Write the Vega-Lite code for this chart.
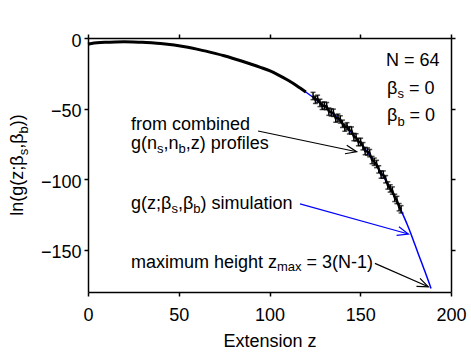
{
  "$schema": "https://vega.github.io/schema/vega-lite/v6.json",
  "width": 363,
  "height": 254,
  "autosize": {"type": "none"},
  "padding": {"left": 88, "top": 38, "right": 20, "bottom": 64},
  "background": "white",
  "config": {
    "view": {"stroke": null},
    "axis": {
      "grid": false,
      "domainColor": "black",
      "domainWidth": 1.5,
      "tickColor": "black",
      "tickWidth": 1.5,
      "tickSize": 4,
      "labelFont": "Liberation Sans",
      "labelFontSize": 18,
      "labelColor": "black",
      "titleFont": "Liberation Sans",
      "titleFontSize": 18,
      "titleFontWeight": "normal",
      "titleColor": "black"
    },
    "text": {"font": "Liberation Sans", "color": "black"}
  },
  "datasets": {
    "curve": [
      {"z": 0, "y": -4.4}, {"z": 2, "y": -3.9}, {"z": 5, "y": -3.4}, {"z": 10, "y": -3.0},
      {"z": 15, "y": -2.8}, {"z": 20, "y": -2.7}, {"z": 25, "y": -2.8}, {"z": 30, "y": -3.0},
      {"z": 35, "y": -3.4}, {"z": 40, "y": -3.9}, {"z": 45, "y": -4.6}, {"z": 50, "y": -5.5},
      {"z": 55, "y": -6.6}, {"z": 60, "y": -7.9}, {"z": 65, "y": -9.3}, {"z": 70, "y": -10.9},
      {"z": 75, "y": -12.6}, {"z": 80, "y": -14.5}, {"z": 85, "y": -16.5}, {"z": 90, "y": -18.6},
      {"z": 95, "y": -20.8}, {"z": 100, "y": -23.2}, {"z": 105, "y": -26.3}, {"z": 110, "y": -29.8},
      {"z": 115, "y": -33.8}, {"z": 120, "y": -38.3}, {"z": 125, "y": -43.0}, {"z": 130, "y": -48.2},
      {"z": 135, "y": -53.8}, {"z": 140, "y": -60.0}, {"z": 145, "y": -66.8}, {"z": 150, "y": -74.3},
      {"z": 155, "y": -82.7}, {"z": 160, "y": -92.2}, {"z": 165, "y": -103.0}, {"z": 170, "y": -115.2},
      {"z": 173, "y": -123.6}, {"z": 176, "y": -132.5}, {"z": 178, "y": -139.0}, {"z": 180, "y": -146.0},
      {"z": 182, "y": -153.0}, {"z": 184, "y": -159.8}, {"z": 185.5, "y": -165.0}, {"z": 187, "y": -170.2},
      {"z": 188, "y": -173.8}, {"z": 189, "y": -177.5}
    ],
    "pts": [
      {"z": 124, "y": -41.1}, {"z": 125.3, "y": -43.8}, {"z": 126.5, "y": -43.1}, {"z": 127.8, "y": -46.0},
      {"z": 129, "y": -48.1}, {"z": 130.2, "y": -47.9}, {"z": 131.5, "y": -48.3}, {"z": 132.7, "y": -52.2},
      {"z": 134, "y": -52.7}, {"z": 135.2, "y": -53.0}, {"z": 136.5, "y": -57.1}, {"z": 137.7, "y": -56.5},
      {"z": 139, "y": -57.7}, {"z": 140.2, "y": -60.8}, {"z": 141.5, "y": -63.5}, {"z": 142.7, "y": -62.6},
      {"z": 144, "y": -65.4}, {"z": 145.2, "y": -65.6}, {"z": 146.5, "y": -70.2}, {"z": 147.7, "y": -70.4},
      {"z": 149, "y": -73.8}, {"z": 150.2, "y": -73.6}, {"z": 151.5, "y": -76.7}, {"z": 152.7, "y": -80.1},
      {"z": 154, "y": -80.5}, {"z": 155.2, "y": -81.6}, {"z": 156.5, "y": -86.5}, {"z": 157.7, "y": -87.7},
      {"z": 159, "y": -89.3}, {"z": 160.2, "y": -93.1}, {"z": 161.5, "y": -96.8}, {"z": 162.7, "y": -96.8},
      {"z": 164, "y": -100.1}, {"z": 165.2, "y": -104.5}, {"z": 166.5, "y": -106.6}, {"z": 167.7, "y": -108.1},
      {"z": 169, "y": -113.3}, {"z": 170.2, "y": -114.8}, {"z": 171.4, "y": -119.9}, {"z": 172.5, "y": -121.4}
    ],
    "arrows": [
      {"id": "data", "z": 93.7, "y": -65.9, "z2": 148.0, "y2": -80.6},
      {"id": "sim", "z": 116.8, "y": -117.6, "z2": 176.5, "y2": -138.9},
      {"id": "max", "z": 158.1, "y": -159.7, "z2": 187.5, "y2": -176.3}
    ],
    "txt": [
      {"t": "from combined", "z": 23.69, "y": -64.85},
      {"t": "g(n", "z": 23.69, "y": -79.01},
      {"t": ",n", "z": 41.60, "y": -79.01},
      {"t": ",z) profiles", "z": 53.83, "y": -79.01},
      {"t": "g(z;β", "z": 23.69, "y": -121.18},
      {"t": ",β", "z": 49.53, "y": -121.18},
      {"t": ") simulation", "z": 61.98, "y": -121.18},
      {"t": "maximum height z", "z": 23.69, "y": -162.64},
      {"t": "= 3(N-1)", "z": 120.44, "y": -162.64},
      {"t": "N = 64", "z": 164.19, "y": -19.84},
      {"t": "β", "z": 164.74, "y": -39.69},
      {"t": "= 0", "z": 176.80, "y": -39.69},
      {"t": "β", "z": 164.74, "y": -59.17},
      {"t": "= 0", "z": 177.19, "y": -59.17}
    ],
    "sub": [
      {"t": "s", "z": 38.02, "y": -81.85},
      {"t": "b", "z": 49.86, "y": -81.85},
      {"t": "s", "z": 45.95, "y": -124.02},
      {"t": "b", "z": 58.02, "y": -124.02},
      {"t": "max", "z": 104.13, "y": -165.47},
      {"t": "s", "z": 170.47, "y": -42.52},
      {"t": "b", "z": 170.47, "y": -62.01}
    ],
    "ytxt": [
      {"t": "ln(g(z;β", "z": -35.54, "y": -125.97},
      {"t": ",β", "z": -35.54, "y": -78.56},
      {"t": "))", "z": -35.54, "y": -62.54}
    ],
    "ysub": [
      {"t": "s", "z": -33.33, "y": -83.16},
      {"t": "b", "z": -33.33, "y": -67.64}
    ]
  },
  "resolve": {"axis": {"x": "independent", "y": "independent"}},
  "layer": [
    {
      "data": {"name": "curve"},
      "mark": {"type": "line", "color": "#0000ff", "strokeWidth": 1.5, "interpolate": "monotone"},
      "encoding": {
        "x": {"field": "z", "type": "quantitative", "scale": {"domain": [0, 200], "nice": false},
              "axis": {"orient": "bottom", "values": [0, 50, 100, 150, 200], "labelPadding": 10, "title": "Extension z", "titlePadding": 8, "labelFlush": false}},
        "y": {"field": "y", "type": "quantitative", "scale": {"domain": [-180, 0], "nice": false, "zero": false},
              "axis": {"orient": "left", "values": [0, -50, -100, -150], "labelPadding": 3, "labelOffset": 3, "title": null, "labelFlush": false}}
      }
    },
    {
      "data": {"name": "curve"},
      "transform": [{"filter": "datum.z <= 124"}],
      "mark": {"type": "line", "color": "black", "strokeWidth": 3, "interpolate": "monotone"},
      "encoding": {
        "x": {"field": "z", "type": "quantitative", "axis": {"orient": "top", "values": [0, 50, 100, 150, 200], "labels": false, "title": null}},
        "y": {"field": "y", "type": "quantitative", "axis": {"orient": "right", "values": [0, -50, -100, -150], "labels": false, "title": null}}
      }
    },
    {
      "data": {"name": "pts"},
      "mark": {"type": "line", "color": "black", "strokeWidth": 2.2},
      "encoding": {
        "x": {"field": "z", "type": "quantitative", "axis": null},
        "y": {"field": "y", "type": "quantitative", "axis": null}
      }
    },
    {
      "data": {"name": "pts"},
      "transform": [{"calculate": "datum.y - 2.6", "as": "lo"}, {"calculate": "datum.y + 2.6", "as": "hi"}],
      "layer": [
        {
          "mark": {"type": "rule", "color": "black", "strokeWidth": 1.5},
          "encoding": {
            "x": {"field": "z", "type": "quantitative", "axis": null},
            "y": {"field": "lo", "type": "quantitative", "axis": null},
            "y2": {"field": "hi"}
          }
        },
        {
          "mark": {"type": "tick", "orient": "horizontal", "color": "black", "size": 5, "thickness": 1.5},
          "encoding": {
            "x": {"field": "z", "type": "quantitative", "axis": null},
            "y": {"field": "lo", "type": "quantitative", "axis": null}
          }
        },
        {
          "mark": {"type": "tick", "orient": "horizontal", "color": "black", "size": 5, "thickness": 1.5},
          "encoding": {
            "x": {"field": "z", "type": "quantitative", "axis": null},
            "y": {"field": "hi", "type": "quantitative", "axis": null}
          }
        }
      ]
    },
    {
      "data": {"name": "arrows"},
      "mark": {"type": "rule", "strokeWidth": 1.2},
      "encoding": {
        "x": {"field": "z", "type": "quantitative", "axis": null},
        "y": {"field": "y", "type": "quantitative", "axis": null},
        "x2": {"field": "z2"},
        "y2": {"field": "y2"},
        "color": {"condition": {"test": "datum.id === 'sim'", "value": "#0000ff"}, "value": "black"}
      }
    },
    {
      "data": {"name": "arrows"},
      "transform": [{"filter": "datum.id === 'data'"}],
      "mark": {"type": "point", "shape": "M-1,-0.4L0,0L-1,0.4", "filled": false, "size": 484, "strokeWidth": 1.2, "color": "black", "angle": 11.85, "opacity": 1},
      "encoding": {
        "x": {"field": "z2", "type": "quantitative", "axis": null},
        "y": {"field": "y2", "type": "quantitative", "axis": null}
      }
    },
    {
      "data": {"name": "arrows"},
      "transform": [{"filter": "datum.id === 'sim'"}],
      "mark": {"type": "point", "shape": "M-1,-0.4L0,0L-1,0.4", "filled": false, "size": 484, "strokeWidth": 1.2, "color": "#0000ff", "angle": 15.5, "opacity": 1},
      "encoding": {
        "x": {"field": "z2", "type": "quantitative", "axis": null},
        "y": {"field": "y2", "type": "quantitative", "axis": null}
      }
    },
    {
      "data": {"name": "arrows"},
      "transform": [{"filter": "datum.id === 'max'"}],
      "mark": {"type": "point", "shape": "M-1,-0.4L0,0L-1,0.4", "filled": false, "size": 484, "strokeWidth": 1.2, "color": "black", "angle": 23.7, "opacity": 1},
      "encoding": {
        "x": {"field": "z2", "type": "quantitative", "axis": null},
        "y": {"field": "y2", "type": "quantitative", "axis": null}
      }
    },
    {
      "data": {"name": "txt"},
      "mark": {"type": "text", "fontSize": 18, "align": "left", "baseline": "alphabetic"},
      "encoding": {
        "x": {"field": "z", "type": "quantitative", "axis": null},
        "y": {"field": "y", "type": "quantitative", "axis": null},
        "text": {"field": "t"}
      }
    },
    {
      "data": {"name": "sub"},
      "mark": {"type": "text", "fontSize": 13, "align": "left", "baseline": "alphabetic"},
      "encoding": {
        "x": {"field": "z", "type": "quantitative", "axis": null},
        "y": {"field": "y", "type": "quantitative", "axis": null},
        "text": {"field": "t"}
      }
    },
    {
      "data": {"name": "ytxt"},
      "mark": {"type": "text", "fontSize": 18, "align": "left", "baseline": "alphabetic", "angle": 270},
      "encoding": {
        "x": {"field": "z", "type": "quantitative", "axis": null},
        "y": {"field": "y", "type": "quantitative", "axis": null},
        "text": {"field": "t"}
      }
    },
    {
      "data": {"name": "ysub"},
      "mark": {"type": "text", "fontSize": 13, "align": "left", "baseline": "alphabetic", "angle": 270},
      "encoding": {
        "x": {"field": "z", "type": "quantitative", "axis": null},
        "y": {"field": "y", "type": "quantitative", "axis": null},
        "text": {"field": "t"}
      }
    }
  ]
}
